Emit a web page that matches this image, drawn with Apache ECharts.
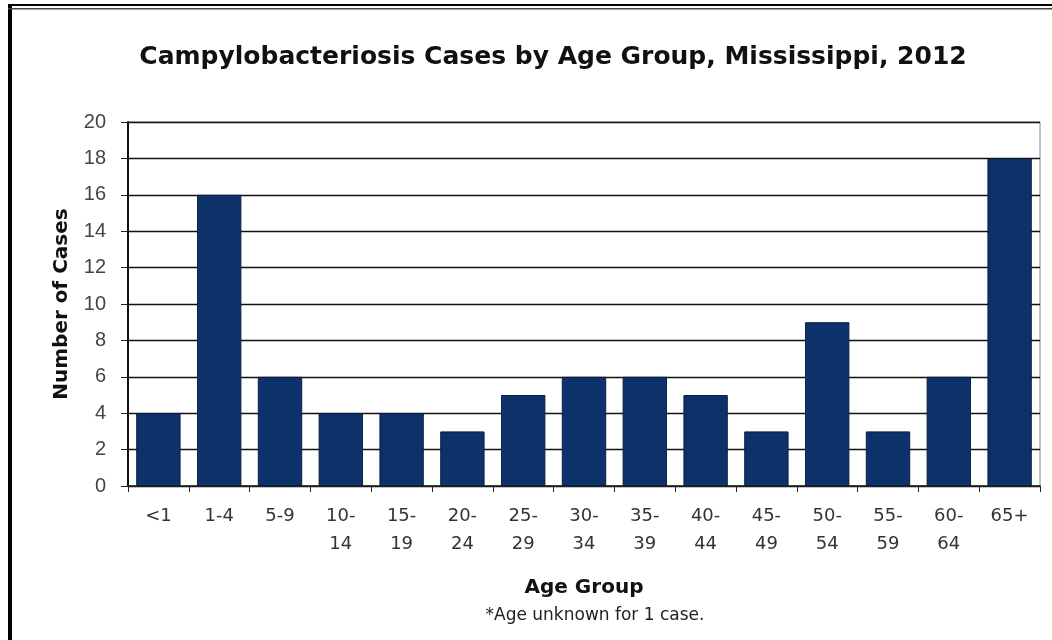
<!DOCTYPE html>
<html><head><meta charset="utf-8">
<script src="https://cdn.jsdelivr.net/npm/echarts@6/dist/echarts.min.js"></script>
<style>html,body{margin:0;padding:0;background:#fff}#c{width:1052px;height:640px}</style>
</head><body><div id="c"></div>
<script>
const categories = ['<1','1-4','5-9','10-\n14','15-\n19','20-\n24','25-\n29','30-\n34','35-\n39','40-\n44','45-\n49','50-\n54','55-\n59','60-\n64','65+'];
const cases = [4,16,6,4,4,3,5,6,6,5,3,9,3,6,18];
const yTicks = {min:0, max:20, interval:2};
const titleText = 'Campylobacteriosis Cases by Age Group, Mississippi, 2012';
const xName = 'Age Group';
const yName = 'Number of Cases';
const footnote = '*Age unknown for 1 case.';

const chart = echarts.init(document.getElementById('c'));
chart.setOption({
  animation:false,
  backgroundColor:'#fff',
  title:{text:titleText,left:548,textAlign:'center',top:40,textStyle:{fontFamily:'DejaVu Sans',fontWeight:'bold',fontSize:25,color:'#111'}},
  grid:{left:128,right:12,top:122,bottom:154,containLabel:false,show:true,borderColor:'#888',borderWidth:1},
  xAxis:{type:'category',data:categories,
    name:xName,nameLocation:'middle',nameGap:92,
    nameTextStyle:{fontFamily:'DejaVu Sans',fontWeight:'bold',fontSize:20,color:'#111'},
    axisLine:{lineStyle:{color:'#222',width:1.5}},
    axisTick:{show:true,length:6,lineStyle:{color:'#222'}},
    axisLabel:{fontFamily:'DejaVu Sans',fontSize:18,color:'#333',margin:16,lineHeight:28}},
  yAxis:{type:'value',min:yTicks.min,max:yTicks.max,interval:yTicks.interval,
    name:yName,nameLocation:'middle',nameGap:56,
    nameTextStyle:{fontFamily:'DejaVu Sans',fontWeight:'bold',fontSize:20,color:'#111'},
    axisLine:{show:true,lineStyle:{color:'#111',width:2}},
    axisTick:{show:true,length:7,lineStyle:{color:'#222'}},
    axisLabel:{fontFamily:'Liberation Sans, Arial',fontSize:20,color:'#444',margin:22},
    splitLine:{lineStyle:{color:'#111',width:1.3}}},
  series:[{type:'bar',data:cases,barCategoryGap:'27%',
    itemStyle:{color:'#0D3169',borderColor:'#0a2045',borderWidth:1}}],
  graphic:[
    {type:'text',x:595,y:607,style:{text:footnote,font:'17px DejaVu Sans',fill:'#222',textAlign:'center'}},
    {type:'rect',shape:{x:8,y:4,width:4,height:640},style:{fill:'#000'}},
    {type:'rect',shape:{x:8,y:4,width:1044,height:2},style:{fill:'#000'}},
    {type:'rect',shape:{x:8,y:8,width:1044,height:1.5},style:{fill:'#444'}}
  ]
});
</script></body></html>
